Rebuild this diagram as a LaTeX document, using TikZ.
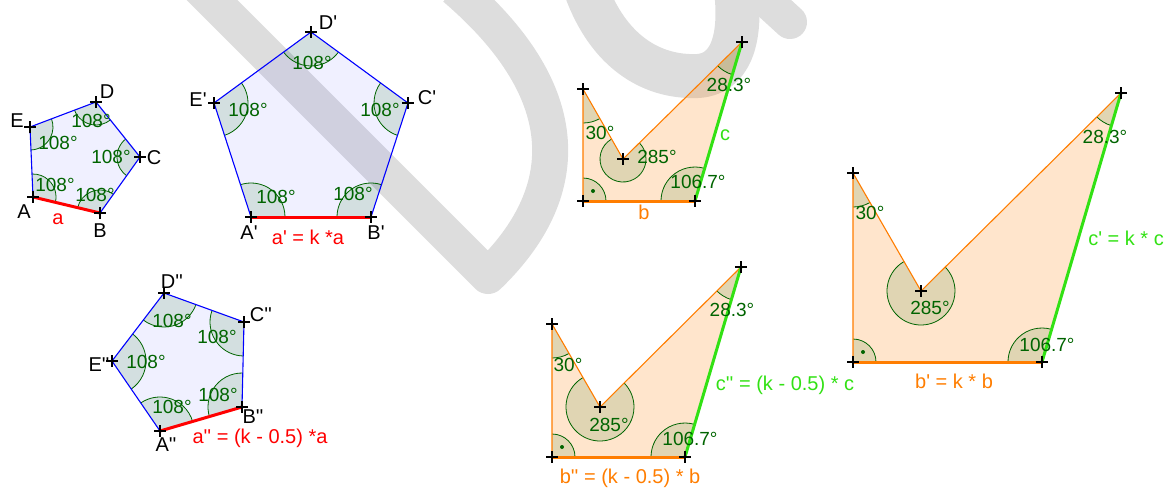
\documentclass[tikz,border=0pt]{standalone}
\usepackage{fontspec}
\setmainfont{Liberation Sans}
\usetikzlibrary{angles}
\definecolor{wmgray}{RGB}{221,221,221}
\definecolor{dkgreen}{RGB}{0,100,0}
\definecolor{lgreen}{RGB}{50,225,20}
\definecolor{orng}{RGB}{255,125,0}
\newcommand{\apos}{\textquotesingle}
\newcommand{\ptcross}[1]{\draw[ptmark] (#1) ++(-6,0) -- ++(12,0) (#1) ++(0,-6) -- ++(0,12);}
\tikzset{
  wmark/.style={draw=wmgray, line join=round},
  pfill/.style={fill=blue, fill opacity=0.06},
  pedge/.style={draw=blue, line width=1.1pt},
  ofill/.style={fill=orng, fill opacity=0.2},
  oedge/.style={draw=orng, line width=1.1pt},
  ang/.style={draw=dkgreen, fill=dkgreen, fill opacity=0.12, line width=0.8pt, angle radius=34pt},
  sang/.style={ang, angle radius=23pt},
  ptmark/.style={black, line width=1.4pt},
  plabel/.style={font=\fontsize{20}{24}\selectfont},
  alabel/.style={text=dkgreen, font=\fontsize{19}{22}\selectfont},
}
\begin{document}
\begin{tikzpicture}[x=1pt, y=-1pt]
  \useasboundingbox (0,0) rectangle (1169,488);
  % Wasserzeichen
  \begin{scope}
    \clip (0,0) rectangle (1169,488);
    \draw[wmark, line width=36pt] (188,-24) -- (488,276) .. controls (572,195) and (580,95) .. (455,-12);
    \draw[wmark, line width=44pt] (586,-10) .. controls (608,50) and (650,78) .. (698,76) .. controls (730,74) and (742,40) .. (736,-10);
    \draw[wmark, line width=34pt, line cap=round] (755,-10) -- (790,22);
  \end{scope}

  % Fuenfeck ABCDE
  \coordinate (A) at (33,197);
  \coordinate (B) at (100,213);
  \coordinate (C) at (140,157);
  \coordinate (D) at (96,102);
  \coordinate (E) at (30,127);
  \fill[pfill] (A) -- (B) -- (C) -- (D) -- (E) -- cycle;
  \foreach \p/\v/\n in {B/A/E, C/B/A, D/C/B, E/D/C, A/E/D}
    \pic[sang] {angle=\p--\v--\n};
  \draw[pedge] (B) -- (C) -- (D) -- (E) -- (A);
  \draw[red, line width=3pt] (A) -- (B);

  % Fuenfeck A'B'C'D'E' (k-fach)
  \coordinate (A1) at (251,217);
  \coordinate (B1) at (371,217);
  \coordinate (C1) at (408,103);
  \coordinate (D1) at (311,32);
  \coordinate (E1) at (214,103);
  \fill[pfill] (A1) -- (B1) -- (C1) -- (D1) -- (E1) -- cycle;
  \foreach \p/\v/\n in {B1/A1/E1, C1/B1/A1, D1/C1/B1, E1/D1/C1, A1/E1/D1}
    \pic[ang] {angle=\p--\v--\n};
  \draw[pedge] (B1) -- (C1) -- (D1) -- (E1) -- (A1);
  \draw[red, line width=3pt] (A1) -- (B1);

  % Fuenfeck A''B''C''D''E'' ((k-0.5)-fach)
  \coordinate (A2) at (160,431);
  \coordinate (B2) at (242,407);
  \coordinate (C2) at (244,322);
  \coordinate (D2) at (164,293);
  \coordinate (E2) at (112,361);
  \fill[pfill] (A2) -- (B2) -- (C2) -- (D2) -- (E2) -- cycle;
  \foreach \p/\v/\n in {B2/A2/E2, C2/B2/A2, D2/C2/B2, E2/D2/C2, A2/E2/D2}
    \pic[ang] {angle=\p--\v--\n};
  \draw[pedge] (B2) -- (C2) -- (D2) -- (E2) -- (A2);
  \draw[red, line width=3pt] (A2) -- (B2);

  % Vieleck mit b und c
  \coordinate (v1) at (583,89);
  \coordinate (v2) at (623,159);
  \coordinate (v3) at (742,42);
  \coordinate (v4) at (695,201);
  \coordinate (v5) at (583,201);
  \fill[ofill] (v5) -- (v4) -- (v3) -- (v2) -- (v1) -- cycle;
  \foreach \p/\v/\n in {v3/v4/v5, v2/v3/v4, v5/v1/v2}
    \pic[ang] {angle=\p--\v--\n};
  \pic[sang] {angle=v1--v2--v3};
  \pic[sang] {angle=v4--v5--v1};
  \fill[dkgreen] (v5) ++(10,-10) circle (2);
  \draw[oedge] (v3) -- (v2) -- (v1) -- (v5);
  \draw[orng, line width=3pt] (v5) -- (v4);
  \draw[lgreen, line width=3pt] (v4) -- (v3);

  % Vieleck k-fach
  \coordinate (w1) at (853,173);
  \coordinate (w2) at (921,291);
  \coordinate (w3) at (1121,93);
  \coordinate (w4) at (1042,362);
  \coordinate (w5) at (853,362);
  \fill[ofill] (w5) -- (w4) -- (w3) -- (w2) -- (w1) -- cycle;
  \foreach \p/\v/\n in {w3/w4/w5, w2/w3/w4, w1/w2/w3, w5/w1/w2}
    \pic[ang] {angle=\p--\v--\n};
  \pic[sang] {angle=w4--w5--w1};
  \fill[dkgreen] (w5) ++(10,-10) circle (2);
  \draw[oedge] (w3) -- (w2) -- (w1) -- (w5);
  \draw[orng, line width=3pt] (w5) -- (w4);
  \draw[lgreen, line width=3pt] (w4) -- (w3);

  % Vieleck (k-0.5)-fach
  \coordinate (u1) at (552,324);
  \coordinate (u2) at (600,407);
  \coordinate (u3) at (741,267);
  \coordinate (u4) at (685,457);
  \coordinate (u5) at (552,457);
  \fill[ofill] (u5) -- (u4) -- (u3) -- (u2) -- (u1) -- cycle;
  \foreach \p/\v/\n in {u3/u4/u5, u2/u3/u4, u1/u2/u3, u5/u1/u2}
    \pic[ang] {angle=\p--\v--\n};
  \pic[sang] {angle=u4--u5--u1};
  \fill[dkgreen] (u5) ++(10,-10) circle (2);
  \draw[oedge] (u3) -- (u2) -- (u1) -- (u5);
  \draw[orng, line width=3pt] (u5) -- (u4);
  \draw[lgreen, line width=3pt] (u4) -- (u3);

  % Punkte
  \foreach \q in {A,B,C,D,E,A1,B1,C1,D1,E1,A2,B2,C2,D2,E2,v1,v2,v3,v4,v5,w1,w2,w3,w4,w5,u1,u2,u3,u4,u5}
    {\ptcross{\q}}

  % Beschriftungen
  \node[plabel] (lA) at (24,212) {A};
  \node[plabel] (lB) at (100,231) {B};
  \node[plabel] (lC) at (154,158) {C};
  \node[plabel] (lD) at (107,92) {D};
  \node[plabel] (lE) at (17,121) {E};
  \node[plabel, text=red] (la) at (58,219) {a};
  \node[alabel] (aA) at (55,185) {108°};
  \node[alabel] (aB) at (95,195) {108°};
  \node[alabel] (aC) at (111,157) {108°};
  \node[alabel] (aD) at (91,121) {108°};
  \node[alabel] (aE) at (58,143) {108°};

  \node[plabel] (lA1) at (249,233) {A\apos};
  \node[plabel] (lB1) at (376,233) {B\apos};
  \node[plabel] (lC1) at (427,98) {C\apos};
  \node[plabel] (lD1) at (328,23) {D\apos};
  \node[plabel] (lE1) at (198,100) {E\apos};
  \node[plabel, text=red] (la1) at (308,237) {a\apos{} = k *a};
  \node[alabel] (aA1) at (276,197) {108°};
  \node[alabel] (aB1) at (353,194) {108°};
  \node[alabel] (aC1) at (380,110) {108°};
  \node[alabel] (aD1) at (312,63) {108°};
  \node[alabel] (aE1) at (248,110) {108°};

  \node[plabel] (lA2) at (166,445) {A\apos\apos};
  \node[plabel] (lB2) at (253,417) {B\apos\apos};
  \node[plabel] (lC2) at (261,315) {C\apos\apos};
  \node[plabel] (lD2) at (172,282) {D\apos\apos};
  \node[plabel] (lE2) at (99,365) {E\apos\apos};
  \node[plabel, text=red] (la2) at (260,438) {a\apos\apos{} = (k - 0.5) *a};
  \node[alabel] (aA2) at (172,407) {108°};
  \node[alabel] (aB2) at (218,395) {108°};
  \node[alabel] (aC2) at (217,337) {108°};
  \node[alabel] (aD2) at (172,321) {108°};
  \node[alabel] (aE2) at (146,362) {108°};

  \node[alabel] (av1) at (600,133) {30°};
  \node[alabel] (av2) at (657,157) {285°};
  \node[alabel] (av3) at (729,85) {28.3°};
  \node[alabel] (av4) at (698,182) {106.7°};
  \node[plabel, text=orng] (lb) at (644,212) {b};
  \node[plabel, text=lgreen] (lc) at (725,135) {c};

  \node[alabel] (aw1) at (870,213) {30°};
  \node[alabel] (aw2) at (930,308) {285°};
  \node[alabel] (aw3) at (1105,137) {28.3°};
  \node[alabel] (aw4) at (1047,345) {106.7°};
  \node[plabel, text=orng] (lb1) at (954,381) {b\apos{} = k * b};
  \node[plabel, text=lgreen] (lc1) at (1126,238) {c\apos{} = k * c};

  \node[alabel] (au1) at (568,365) {30°};
  \node[alabel] (au2) at (609,425) {285°};
  \node[alabel] (au3) at (732,310) {28.3°};
  \node[alabel] (au4) at (690,439) {106.7°};
  \node[plabel, text=orng] (lb2) at (630,478) {b\apos\apos{} = (k - 0.5) * b};
  \node[plabel, text=lgreen] (lc2) at (785,385) {c\apos\apos{} = (k - 0.5) * c};
\end{tikzpicture}
\end{document}
